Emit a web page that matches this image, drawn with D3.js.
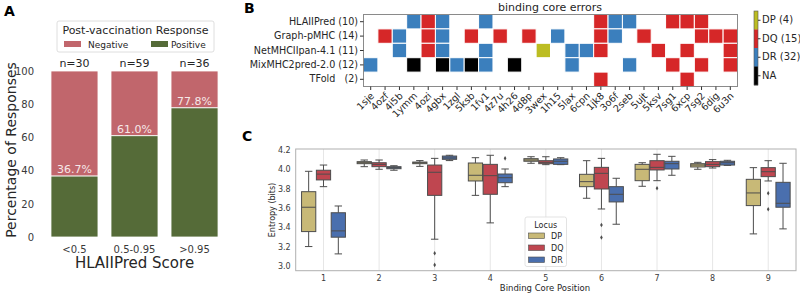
<!DOCTYPE html>
<html><head><meta charset="utf-8">
<script src="https://cdn.jsdelivr.net/npm/d3@7"></script>
<style>
html,body{margin:0;padding:0;background:#fff;}
svg{display:block;font-family:"DejaVu Sans",sans-serif;}
</style></head>
<body><svg id="c" width="800" height="294"></svg>
<script>
// ---------- Panel A data ----------
const scoreBins = ["<0.5", "0.5-0.95", ">0.95"];
const positivePct = [36.7, 61.0, 77.8];
const binCounts = [30, 59, 36];
const yTicksA = [0, 20, 40, 60, 80, 100];

// ---------- Panel B data ----------
const structures = ["1sje","4ozf","4i5b","1ymm","4ozi","4gbx","1zgl","5ksb","1fv1","4z7u","4h26","4d8p","3wex","1h15","5lax","6cpn","1jk8","3o6f","2seb","5ujt","5ksv","7sg1","6xcp","7sg2","6dig","6u3n"];
const methods = ["HLAIIPred (10)", "Graph-pMHC (14)", "NetMHCIIpan-4.1 (11)", "MixMHC2pred-2.0 (12)", "TFold   (2)"];
// error cells: locus code per structure ("" = no error); P=DP, Q=DQ, R=DR, N=NA
const errHLAIIPred = ["","","","R","Q","R","","","R","","","","","","","","Q","R","R","","","Q","Q","Q","",""];
const errGraphPMHC = ["","Q","R","","Q","R","","Q","","Q","","Q","","R","","","Q","R","","Q","","","","Q","Q","Q"];
const errNetMHCII  = ["","","R","","Q","R","","","R","","","","P","","R","R","Q","","","","Q","","Q","","","Q"];
const errMixMHC2   = ["R","","","N","","N","R","N","R","","N","","","","R","","","","R","","","Q","","Q","","Q"];
const errTFold     = ["","","","","","","","","","","","","","","","","Q","","","","","","Q","","",""];
const colorbarLabels = ["DP (4)", "DQ (15)", "DR (32)", "NA"];

// ---------- Panel C data ----------
const corePositions = ["1","2","3","4","5","6","7","8","9"];
const loci = ["DP","DQ","DR"];
const yTicksC = [3.0, 3.2, 3.4, 3.6, 3.8, 4.0, 4.2];
// per locus: whisker low, q1, median, q3, whisker high (positions 1..9)
const dpLow  = [3.20, 4.027, 4.03, 3.73, 4.062, 3.70, 3.824, 4.00, 3.331];
const dpQ1   = [3.355, 4.058, 4.058, 3.879, 4.083, 3.82, 3.882, 4.024, 3.624];
const dpMed  = [3.607, 4.068, 4.068, 3.938, 4.096, 3.872, 4.00, 4.044, 3.755];
const dpQ3   = [3.768, 4.079, 4.075, 4.065, 4.11, 3.948, 4.051, 4.058, 3.896];
const dpHigh = [3.979, 4.096, 4.09, 4.12, 4.13, 4.089, 4.068, 4.072, 4.017];
const dqLow  = [3.82, 4.00, 3.276, 3.445, 4.048, 3.589, 3.882, 4.013, 3.879];
const dqQ1   = [3.89, 4.027, 3.73, 3.741, 4.058, 3.796, 3.993, 4.027, 3.924];
const dqMed  = [3.95, 4.051, 3.969, 3.934, 4.072, 3.958, 4.02, 4.051, 3.975];
const dqQ3   = [3.99, 4.068, 4.044, 4.051, 4.089, 4.02, 4.089, 4.079, 4.017];
const dqHigh = [4.044, 4.096, 4.113, 4.145, 4.13, 4.113, 4.155, 4.10, 4.089];
const drLow  = [3.124, 3.99, 4.09, 3.82, 4.048, 3.431, 3.938, 4.04, 3.383];
const drQ1   = [3.297, 4.006, 4.103, 3.861, 4.051, 3.662, 4.003, 4.044, 3.607];
const drMed  = [3.362, 4.017, 4.117, 3.913, 4.083, 3.741, 4.058, 4.068, 3.648];
const drQ3   = [3.55, 4.027, 4.137, 3.951, 4.107, 3.82, 4.083, 4.083, 3.865];
const drHigh = [3.62, 4.037, 4.145, 4.003, 4.12, 3.907, 4.134, 4.093, 4.062];
// outliers: [position index, value]
const dpOutliers = [];
const dqOutliers = [[2, 3.13], [2, 3.01], [5, 3.424], [5, 3.293], [6, 3.803], [8, 3.752], [8, 3.586]];
const drOutliers = [[3, 4.113]];

const svg = d3.select("#c");
const txt = "#262626";

// ================= Panel A =================
(function(){
  const x = d3.scaleBand().domain(scoreBins).range([44.5, 224.5]).paddingInner(0.217).paddingOuter(0.108);
  const y = d3.scaleLinear().domain([0, 100]).range([237, 71]);
  const g = svg.append("g");
  const negCol = "#c1666c", posCol = "#556b38";
  scoreBins.forEach((b, i) => {
    g.append("rect").attr("x", x(b)).attr("width", x.bandwidth())
      .attr("y", y(100)).attr("height", y(positivePct[i]) - y(100))
      .attr("fill", negCol).attr("stroke", "#fff").attr("stroke-width", 0.8);
    g.append("rect").attr("x", x(b)).attr("width", x.bandwidth())
      .attr("y", y(positivePct[i])).attr("height", y(0) - y(positivePct[i]))
      .attr("fill", posCol).attr("stroke", "#fff").attr("stroke-width", 0.8);
    g.append("text").attr("x", x(b) + x.bandwidth()/2).attr("y", y(positivePct[i]) - 3)
      .attr("text-anchor", "middle").attr("font-size", 11).attr("fill", "#f6e8e8")
      .text(positivePct[i].toFixed(1) + "%");
    g.append("text").attr("x", x(b) + x.bandwidth()/2).attr("y", y(100) - 4)
      .attr("text-anchor", "middle").attr("font-size", 11).attr("fill", txt)
      .text("n=" + binCounts[i]);
  });
  const ya = d3.axisLeft(y).tickValues(yTicksA).tickSize(0).tickPadding(6);
  const ga = g.append("g").attr("transform", "translate(40,0)").call(ya);
  ga.select(".domain").remove();
  ga.selectAll("text").attr("font-size", 10).attr("fill", "#3a3a3a").attr("font-family", "DejaVu Sans");
  const xa = d3.axisBottom(x).tickSize(0).tickPadding(9);
  const gx = g.append("g").attr("transform", "translate(0,237)").call(xa);
  gx.select(".domain").remove();
  gx.selectAll("text").attr("font-size", 10).attr("fill", "#3a3a3a").attr("font-family", "DejaVu Sans");
  g.append("text").attr("x", 134.5).attr("y", 268).attr("text-anchor", "middle")
    .attr("font-size", 15).attr("fill", txt).text("HLAIIPred Score");
  g.append("text").attr("transform", "translate(16,150) rotate(-90)").attr("text-anchor", "middle")
    .attr("font-size", 14).attr("fill", txt).text("Percentage of Responses");
  // legend
  g.append("rect").attr("x", 57).attr("y", 21).attr("width", 157).attr("height", 31).attr("rx", 2)
    .attr("fill", "#fff").attr("stroke", "#d6d6d6").attr("stroke-width", 0.8);
  g.append("text").attr("x", 135.5).attr("y", 34).attr("text-anchor", "middle")
    .attr("font-size", 11).attr("fill", txt).text("Post-vaccination Response");
  g.append("rect").attr("x", 64).attr("y", 41).attr("width", 17).attr("height", 6).attr("fill", negCol);
  g.append("text").attr("x", 88).attr("y", 47.5).attr("font-size", 9).attr("fill", txt).text("Negative");
  g.append("rect").attr("x", 151).attr("y", 41).attr("width", 17).attr("height", 6).attr("fill", posCol);
  g.append("text").attr("x", 171).attr("y", 47.5).attr("font-size", 9).attr("fill", txt).text("Positive");
  svg.append("text").attr("x", 4).attr("y", 16).attr("font-size", 14).attr("font-weight", "bold").text("A");
})();

// ================= Panel B =================
(function(){
  const rows = [errHLAIIPred, errGraphPMHC, errNetMHCII, errMixMHC2, errTFold];
  const x = d3.scaleBand().domain(structures).range([363.5, 737.5]);
  const y = d3.scaleBand().domain(methods).range([14.5, 86.5]);
  const col = {P: "#bcbd22", Q: "#d62728", R: "#3b7fbd", N: "#000000"};
  const g = svg.append("g");
  rows.forEach((r, i) => {
    r.forEach((c, j) => {
      if (!c) return;
      g.append("rect").attr("x", x(structures[j])).attr("y", y(methods[i]))
        .attr("width", x.bandwidth()).attr("height", y.bandwidth())
        .attr("fill", col[c]).attr("stroke", "#fff").attr("stroke-width", 1);
    });
  });
  g.append("rect").attr("x", 363.5).attr("y", 14.5).attr("width", 374).attr("height", 72)
    .attr("fill", "none").attr("stroke", "#8a8a8a").attr("stroke-width", 1);
  const ya = d3.axisLeft(y).tickSize(3.5).tickPadding(2);
  const gy = g.append("g").attr("transform", "translate(363.5,0)").call(ya);
  gy.select(".domain").remove();
  gy.selectAll("line").attr("stroke", "#333");
  gy.selectAll("text").attr("font-size", 9.6).attr("fill", txt).attr("font-family", "DejaVu Sans")
    .style("white-space", "pre");
  const xa = d3.axisBottom(x).tickSize(3.5).tickPadding(2);
  const gx = g.append("g").attr("transform", "translate(0,86.5)").call(xa);
  gx.select(".domain").remove();
  gx.selectAll("line").attr("stroke", "#333");
  gx.selectAll("text").attr("font-size", 9.6).attr("fill", txt).attr("font-family", "DejaVu Sans")
    .attr("text-anchor", "end").attr("dy", null).attr("y", 0)
    .attr("transform", "translate(4,10) rotate(-45)");
  g.append("text").attr("x", 550).attr("y", 11).attr("text-anchor", "middle")
    .attr("font-size", 11).attr("fill", txt).text("binding core errors");
  // colorbar
  const cb = d3.scaleBand().domain(colorbarLabels).range([11, 85]);
  const cbCols = [col.P, col.Q, col.R, col.N];
  colorbarLabels.forEach((l, i) => {
    g.append("rect").attr("x", 754).attr("y", cb(l)).attr("width", 4).attr("height", cb.bandwidth() + 0.3)
      .attr("fill", cbCols[i]);
  });
  g.append("rect").attr("x", 754).attr("y", 11).attr("width", 4).attr("height", 74)
    .attr("fill", "none").attr("stroke", "#555").attr("stroke-width", 0.6);
  const cbAxis = d3.axisRight(cb).tickSize(2.5).tickPadding(1.5);
  const gc = g.append("g").attr("transform", "translate(758,0)").call(cbAxis);
  gc.select(".domain").remove();
  gc.selectAll("line").attr("stroke", "#333");
  gc.selectAll("text").attr("font-size", 10).attr("fill", txt).attr("font-family", "DejaVu Sans");
  svg.append("text").attr("x", 244).attr("y", 13).attr("font-size", 14).attr("font-weight", "bold").text("B");
})();

// ================= Panel C =================
(function(){
  const x = d3.scaleBand().domain(corePositions).range([295.7, 796]);
  const y = d3.scaleLinear().domain([2.95, 4.21]).range([270.7, 149]);
  const hue = d3.scaleBand().domain(loci).range([0, x.bandwidth() * 0.8]);
  const colors = {DP: "#c8b977", DQ: "#bf4650", DR: "#4a6fae"};
  const stats = {
    DP: [dpLow, dpQ1, dpMed, dpQ3, dpHigh, dpOutliers],
    DQ: [dqLow, dqQ1, dqMed, dqQ3, dqHigh, dqOutliers],
    DR: [drLow, drQ1, drMed, drQ3, drHigh, drOutliers]
  };
  const g = svg.append("g");
  corePositions.forEach(p => {
    g.append("line").attr("x1", x(p) + x.bandwidth()/2).attr("x2", x(p) + x.bandwidth()/2)
      .attr("y1", 149).attr("y2", 270.7).attr("stroke", "#e6e6e6").attr("stroke-width", 1);
  });
  const edge = "#4d4d4d";
  loci.forEach(l => {
    const [lo, q1, md, q3, hi, outs] = stats[l];
    corePositions.forEach((p, i) => {
      const x0 = x(p) + x.bandwidth()*0.1 + hue(l);
      const w = hue.bandwidth();
      const cx = x0 + w/2;
      const bx = x0 + w*0.02, bw = w*0.96;
      g.append("line").attr("x1", cx).attr("x2", cx).attr("y1", y(hi[i])).attr("y2", y(q3[i]))
        .attr("stroke", edge).attr("stroke-width", 1);
      g.append("line").attr("x1", cx).attr("x2", cx).attr("y1", y(q1[i])).attr("y2", y(lo[i]))
        .attr("stroke", edge).attr("stroke-width", 1);
      g.append("line").attr("x1", cx - w/4).attr("x2", cx + w/4).attr("y1", y(hi[i])).attr("y2", y(hi[i]))
        .attr("stroke", edge).attr("stroke-width", 1);
      g.append("line").attr("x1", cx - w/4).attr("x2", cx + w/4).attr("y1", y(lo[i])).attr("y2", y(lo[i]))
        .attr("stroke", edge).attr("stroke-width", 1);
      g.append("rect").attr("x", bx).attr("width", bw).attr("y", y(q3[i]))
        .attr("height", Math.max(0.5, y(q1[i]) - y(q3[i])))
        .attr("fill", colors[l]).attr("stroke", edge).attr("stroke-width", 1);
      g.append("line").attr("x1", bx).attr("x2", bx + bw).attr("y1", y(md[i])).attr("y2", y(md[i]))
        .attr("stroke", edge).attr("stroke-width", 1);
    });
    outs.forEach(([pi, v]) => {
      const p = corePositions[pi];
      const cx = x(p) + x.bandwidth()*0.1 + hue(l) + hue.bandwidth()/2;
      g.append("path").attr("d", d3.symbol(d3.symbolDiamond, 6)())
        .attr("transform", `translate(${cx},${y(v)})`).attr("fill", edge);
    });
  });
  g.append("rect").attr("x", 295.7).attr("y", 149).attr("width", 500.3).attr("height", 121.7)
    .attr("fill", "none").attr("stroke", "#b0b0b0").attr("stroke-width", 1);
  const ya = d3.axisLeft(y).tickValues(yTicksC).tickFormat(d3.format(".1f")).tickSize(0).tickPadding(5);
  const gy = g.append("g").attr("transform", "translate(295.7,0)").call(ya);
  gy.select(".domain").remove();
  gy.selectAll("text").attr("font-size", 8).attr("fill", "#3a3a3a").attr("font-family", "DejaVu Sans");
  const xa = d3.axisBottom(x).tickSize(0).tickPadding(5);
  const gx = g.append("g").attr("transform", "translate(0,270.7)").call(xa);
  gx.select(".domain").remove();
  gx.selectAll("text").attr("font-size", 8).attr("fill", "#3a3a3a").attr("font-family", "DejaVu Sans");
  g.append("text").attr("x", 545).attr("y", 291).attr("text-anchor", "middle")
    .attr("font-size", 8.5).attr("fill", txt).text("Binding Core Position");
  g.append("text").attr("transform", "translate(275,210) rotate(-90)").attr("text-anchor", "middle")
    .attr("font-size", 8).attr("fill", txt).text("Entropy (bits)");
  g.append("rect").attr("x", 525).attr("y", 217).attr("width", 41.5).attr("height", 49.5).attr("rx", 2)
    .attr("fill", "#fff").attr("fill-opacity", 0.85).attr("stroke", "#dcdcdc").attr("stroke-width", 0.8);
  g.append("text").attr("x", 545.7).attr("y", 227.5).attr("text-anchor", "middle")
    .attr("font-size", 8).attr("fill", txt).text("Locus");
  loci.forEach((l, i) => {
    const yy = 233 + i * 12;
    g.append("rect").attr("x", 528.5).attr("y", yy).attr("width", 16).attr("height", 5.5)
      .attr("fill", colors[l]).attr("stroke", edge).attr("stroke-width", 0.6);
    g.append("text").attr("x", 551).attr("y", yy + 5.5).attr("font-size", 8).attr("fill", txt).text(l);
  });
  svg.append("text").attr("x", 242).attr("y", 141).attr("font-size", 14).attr("font-weight", "bold").text("C");
})();
</script></body></html>
